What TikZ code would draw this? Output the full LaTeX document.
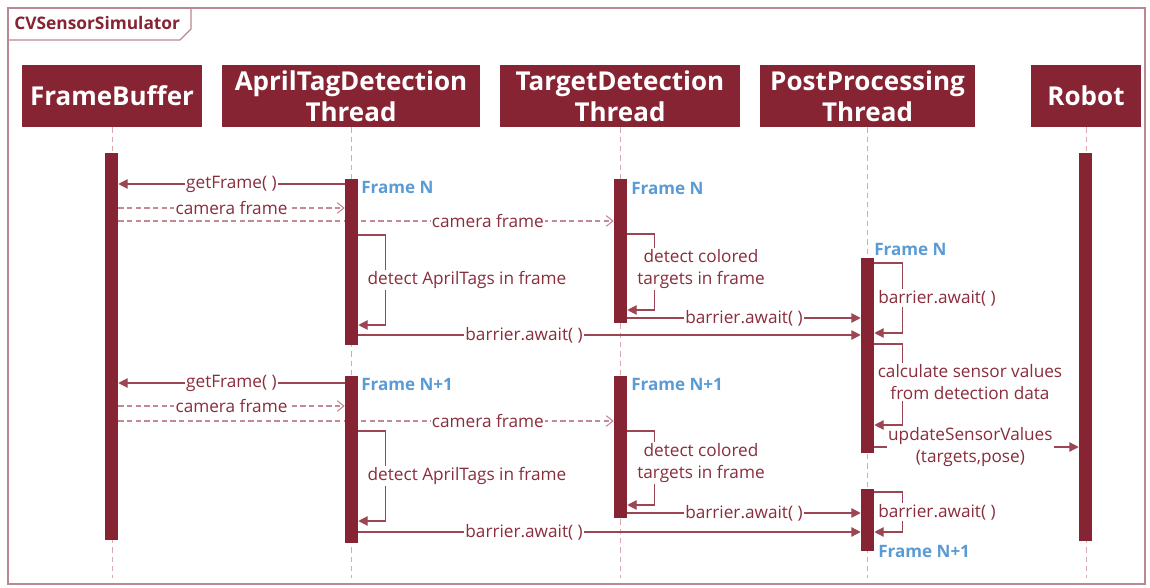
\documentclass[tikz,border=0pt]{standalone}
\usepackage{fontspec}
\setmainfont{Open Sans}
\usepackage{xcolor}
\usetikzlibrary{arrows.meta,positioning,fit,backgrounds,calc}
\definecolor{cvmaroon}{HTML}{862433}
\definecolor{cvline}{HTML}{9C4553}
\definecolor{cvtext}{HTML}{8A2D3C}
\definecolor{cvdash}{HTML}{C48A93}
\definecolor{cvlife}{HTML}{D8AAB0}
\definecolor{cvframe}{HTML}{B98890}
\definecolor{cvblue}{HTML}{5B9BD5}

\tikzset{
  head/.style={fill=cvmaroon, text=white, font=\fontsize{19.5}{23}\selectfont\bfseries,
    align=center, minimum height=46.5pt, inner sep=0pt},
  actbar/.style={fill=cvmaroon, inner sep=0pt},
  life/.style={cvlife, line width=0.7pt, dash pattern=on 4pt off 3pt},
  msg/.style={cvline, line width=0.9pt, -{Triangle[length=7pt,width=7pt]}},
  ret/.style={cvdash, line width=0.8pt, dash pattern=on 4pt off 2.5pt,
    -{Straight Barb[length=5pt,width=8pt]}},
  lbl/.style={fill=white, text=cvtext, font=\fontsize{12.9}{16.5}\selectfont,
    inner sep=1pt, align=center},
  frm/.style={text=cvblue, font=\fontsize{12.8}{14}\selectfont\bfseries,
    anchor=west, inner sep=0pt},
}

\begin{document}
\begin{tikzpicture}[x=0.75pt,y=-0.75pt]
  \useasboundingbox (0,0) rectangle (1150,588);

  % frame and its tab
  \draw[cvframe, line width=0.8pt] (8,8) rectangle (1145,584);
  \draw[cvframe, line width=0.8pt] (8,40) -- (180,40) -- (191,29) -- (191,8);
  \node[text=cvmaroon, font=\fontsize{13}{14}\selectfont\bfseries, anchor=west,
    inner sep=0pt] (title) at (14,23) {CVSensorSimulator};

  % participants
  \node[head, minimum width=135pt] (fbh) at (112,96) {FrameBuffer};
  \node[head, minimum width=193.5pt] (ath) at (351,96) {AprilTagDetection\\Thread};
  \node[head, minimum width=180pt] (tdh) at (620,96) {TargetDetection\\Thread};
  \node[head, minimum width=161.25pt] (pph) at (867.5,96) {PostProcessing\\Thread};
  \node[head, minimum width=82.5pt] (rbh) at (1086,96) {Robot};

  % activations
  \node[actbar, fit={(105,153) (118,540)}] (fb) {};
  \node[actbar, fit={(345,179) (358,345)}] (at1) {};
  \node[actbar, fit={(345,376) (358,543)}] (at2) {};
  \node[actbar, fit={(614,179) (627,323)}] (td1) {};
  \node[actbar, fit={(614,376) (627,518)}] (td2) {};
  \node[actbar, fit={(861,258) (874,453)}] (pp1) {};
  \node[actbar, fit={(861,489) (874,551)}] (pp2) {};
  \node[actbar, fit={(1079,153) (1092,541)}] (rb) {};

  \begin{scope}[on background layer]
    \foreach \h in {fbh,ath,tdh,pph,rbh}
      \draw[life] (\h.south) -- (\h.south |- 0,578);

    % frame N
    \draw[msg] (at1.west |- 0,184) -- node[lbl] (gf1) {getFrame( )} (fb.east |- 0,184);
    \draw[ret] (fb.east |- 0,208) -- node[lbl] (cf1) {camera frame} (at1.west |- 0,208);
    \draw[ret] (fb.east |- 0,221) -- node[lbl, pos=0.746] (cf2) {camera frame} (td1.west |- 0,221);
    \draw[msg] (at1.east |- 0,235) -- ++(27,0) |- (at1.east |- 0,325);
    \node[lbl] (dat1) at (467,280) {detect AprilTags in frame};
    \draw[msg] (td1.east |- 0,234) -- ++(27,0) |- (td1.east |- 0,310);
    \node[lbl] (dtd1) at (701,269) {detect colored\\targets in frame};
    \draw[msg] (td1.east |- 0,318) -- node[lbl] (bw1) {barrier.await( )} (pp1.west |- 0,318);
    \draw[msg] (at1.east |- 0,335) -- node[lbl, pos=0.33] (bw2) {barrier.await( )} (pp1.west |- 0,335);
    \draw[msg] (pp1.east |- 0,263) -- ++(28,0) |- (pp1.east |- 0,333);
    \node[lbl] (bw3) at (937,298) {barrier.await( )};
    \draw[msg] (pp1.east |- 0,344) -- ++(28,0) |- (pp1.east |- 0,425);
    \node[lbl] (calc) at (970,382) {calculate sensor values\\from detection data};
    \draw[msg] (pp1.east |- 0,447) -- node[lbl, pos=0.47] (upd) {updateSensorValues\\(targets,pose)} (rb.west |- 0,447);

    % frame N+1
    \draw[msg] (at2.west |- 0,383) -- node[lbl] (gf2) {getFrame( )} (fb.east |- 0,383);
    \draw[ret] (fb.east |- 0,406) -- node[lbl] (cf3) {camera frame} (at2.west |- 0,406);
    \draw[ret] (fb.east |- 0,421) -- node[lbl, pos=0.746] (cf4) {camera frame} (td2.west |- 0,421);
    \draw[msg] (at2.east |- 0,431) -- ++(27,0) |- (at2.east |- 0,521);
    \node[lbl] (dat2) at (467,476) {detect AprilTags in frame};
    \draw[msg] (td2.east |- 0,431) -- ++(27,0) |- (td2.east |- 0,505);
    \node[lbl] (dtd2) at (701,463) {detect colored\\targets in frame};
    \draw[msg] (td2.east |- 0,513) -- node[lbl] (bw4) {barrier.await( )} (pp2.west |- 0,513);
    \draw[msg] (at2.east |- 0,532) -- node[lbl, pos=0.33] (bw5) {barrier.await( )} (pp2.west |- 0,532);
    \draw[msg] (pp2.east |- 0,492) -- ++(28,0) |- (pp2.east |- 0,532);
    \node[lbl] (bw6) at (937,512) {barrier.await( )};
  \end{scope}

  \node[frm] (fn1) at (361,187) {Frame N};
  \node[frm] (fn2) at (631,188) {Frame N};
  \node[frm] (fn3) at (874,249) {Frame N};
  \node[frm] (fn4) at (361,384) {Frame N+1};
  \node[frm] (fn5) at (631,384) {Frame N+1};
  \node[frm] (fn6) at (878,551) {Frame N+1};
\end{tikzpicture}
\end{document}
